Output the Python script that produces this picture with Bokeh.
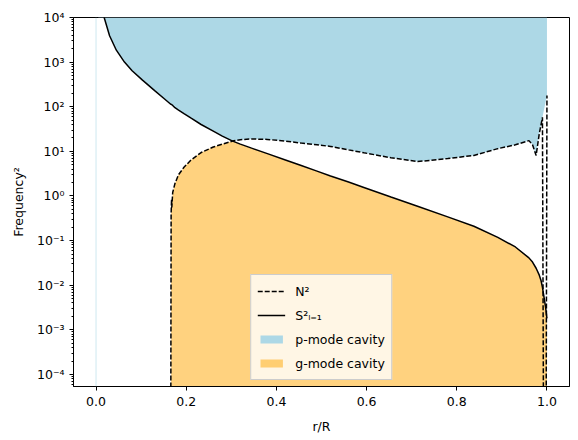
import numpy as np
from bokeh.plotting import figure
from bokeh.models import (Range1d, FixedTicker, PrintfTickFormatter, CustomJSTickFormatter,
                          Legend, LegendItem, Span)
from bokeh.embed import file_html
from bokeh.resources import INLINE

# ---------------- data ----------------
r = [0.0, 0.005, 0.01, 0.018, 0.03, 0.045, 0.063, 0.08, 0.103, 0.13, 0.15, 0.165,
     0.1665, 0.1675, 0.168, 0.170, 0.175, 0.183, 0.195, 0.21, 0.233, 0.26, 0.28, 0.303,
     0.32, 0.345, 0.38, 0.42, 0.455, 0.49, 0.52, 0.56, 0.594, 0.654, 0.713, 0.78, 0.838,
     0.891, 0.93, 0.96, 0.968, 0.976, 0.983, 0.987, 0.990, 0.994, 0.997, 1.0]

S2 = [np.nan, 1.3e5, 3.6e4, 1.0e4, 3.9e3, 1.85e3, 1.0e3, 640, 395, 230, 155, 115,
      113, 112, 111, 107, 95, 84, 70, 56, 40, 28.5, 22, 17,
      14.5, 11.8, 8.9, 6.4, 4.8, 3.6, 2.8, 2.05, 1.55, 0.95, 0.59, 0.34, 0.21,
      0.118, 0.072, 0.041, 0.033, 0.024, 0.0168, 0.0126, 0.0089, 0.005, 0.0032, 0.0018]

N2 = [0, 0, 0, 0, 0, 0, 0, 0, 0, 0, 0, 0,
      0.4, 0.85, 0.55, 1.2, 1.9, 3.0, 4.4, 6.3, 9.4, 12.5, 14.5, 17,
      18.3, 19, 18.5, 17, 15.3, 14, 12.9, 10.8, 9.3, 7.2, 5.9, 6.9, 8.1,
      11.5, 14, 17.4, 14, 8.1, 25, 40, 58, -1, -1, 178]

x_ticks = [0.0, 0.2, 0.4, 0.6, 0.8, 1.0]
y_exponents = list(range(-4, 5))

X_RANGE = (-0.05, 1.05)
Y_RANGE = (10 ** -4.27, 1e4)
CLIP = 1e-10

# ---------------- derived arrays ----------------
ra = np.array(r)
s2 = np.array(S2, dtype=float)
n2 = np.array(N2, dtype=float)
n2_plot = np.where(n2 > 0, n2, CLIP)

pmask = (n2 >= 0) & np.isfinite(s2)
p_x = ra[pmask]
p_lo = np.maximum(n2[pmask], s2[pmask])
p_hi = np.full(p_x.shape, Y_RANGE[1])

gmask = (n2 > 0)
g_x = ra[gmask]
g_hi = np.minimum(n2[gmask], s2[gmask])
g_lo = np.full(g_x.shape, CLIP)

FONT = "DejaVu Sans"
FS = "12.5px"

p = figure(width=578, height=440, y_axis_type="log",
           x_range=Range1d(*X_RANGE), y_range=Range1d(*Y_RANGE),
           output_backend="svg", toolbar_location=None,
           min_border_left=73, min_border_right=9, min_border_top=17, min_border_bottom=54)

p.xgrid.visible = False
p.ygrid.visible = False
p.outline_line_color = "black"
p.outline_line_alpha = 1.0
p.outline_line_width = 1
p.background_fill_color = "white"
p.border_fill_color = "white"

# fills
p_fill = p.varea(x=p_x, y1=p_lo, y2=p_hi, fill_color="lightblue", fill_alpha=1.0)
g_fill = p.varea(x=g_x, y1=g_lo, y2=g_hi, fill_color="orange", fill_alpha=0.5)
p.add_layout(Span(location=r[0], dimension="height", line_color="lightblue",
                  line_alpha=0.6, line_width=1))

# lines
n_line = p.line(ra, n2_plot, line_color="black", line_width=1.5, line_dash="5 2")
s_line = p.line(ra, s2, line_color="black", line_width=1.5)

# axes
p.xaxis.ticker = FixedTicker(ticks=x_ticks)
p.xaxis.formatter = PrintfTickFormatter(format="%.1f")
p.yaxis.ticker = FixedTicker(ticks=[10.0 ** k for k in y_exponents],
                             minor_ticks=[m * 10.0 ** k for k in range(-5, 5) for m in range(2, 10)])
p.yaxis.formatter = CustomJSTickFormatter(code="""
const e = Math.round(Math.log10(tick));
const sup = {'-':'\u207b','0':'\u2070','1':'\u00b9','2':'\u00b2','3':'\u00b3','4':'\u2074',
             '5':'\u2075','6':'\u2076','7':'\u2077','8':'\u2078','9':'\u2079'};
return '10' + String(e).split('').map(c => sup[c]).join('');
""")
p.xaxis.axis_label = "r/R"
p.yaxis.axis_label = "Frequency²"

for ax in (p.xaxis[0], p.yaxis[0]):
    ax.axis_line_color = "black"
    ax.major_tick_line_color = "black"
    ax.minor_tick_line_color = "black"
    ax.major_tick_out = 4
    ax.major_tick_in = 0
    ax.minor_tick_out = 2
    ax.minor_tick_in = 0
    ax.major_label_text_font = FONT
    ax.major_label_text_font_size = FS
    ax.major_label_text_color = "black"
    ax.axis_label_text_font = FONT
    ax.axis_label_text_font_size = FS
    ax.axis_label_text_font_style = "normal"
    ax.axis_label_text_color = "black"
p.xaxis.major_label_standoff = 6
p.xaxis.axis_label_standoff = 10
p.yaxis.axis_label_standoff = 8

legend = Legend(items=[
    LegendItem(label="N²", renderers=[n_line]),
    LegendItem(label="S²ₗ₌₁", renderers=[s_line]),
    LegendItem(label="p-mode cavity", renderers=[p_fill]),
    LegendItem(label="g-mode cavity", renderers=[g_fill]),
], location="bottom_center")
legend.margin = 6
legend.padding = 6
legend.spacing = 4
legend.glyph_width = 28
legend.glyph_height = 10
legend.label_height = 20
legend.label_standoff = 10
legend.label_text_font = FONT
legend.label_text_font_size = FS
legend.label_text_color = "black"
legend.background_fill_color = "white"
legend.background_fill_alpha = 0.8
legend.border_line_color = "#cccccc"
legend.border_line_alpha = 1.0
legend.border_line_width = 1
p.add_layout(legend)

open("out.html", "w").write(file_html(p, INLINE))
